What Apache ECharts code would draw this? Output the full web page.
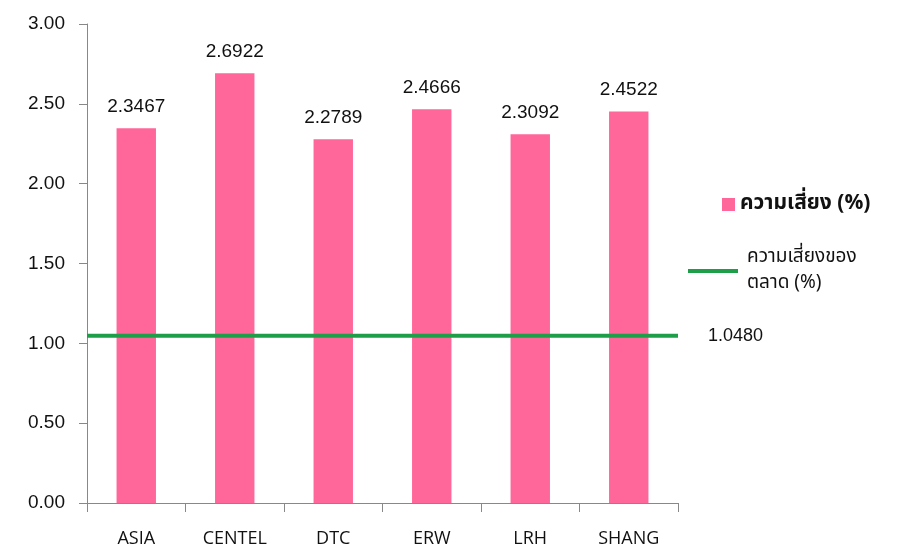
<!DOCTYPE html>
<html>
<head>
<meta charset="utf-8">
<script src="https://cdn.jsdelivr.net/npm/echarts@6/dist/echarts.min.js"></script>
<style>
  html, body { margin: 0; padding: 0; background: #fff; }
  #main { width: 907px; height: 556px; }
</style>
</head>
<body>
<div id="main"></div>
<script>
// ข้อมูลจากรูป
const categories = ['ASIA', 'CENTEL', 'DTC', 'ERW', 'LRH', 'SHANG'];
const riskValues = [2.3467, 2.6922, 2.2789, 2.4666, 2.3092, 2.4522];
const marketRisk = [1.048, 1.048, 1.048, 1.048, 1.048, 1.048];
const yTicks = [0, 0.5, 1, 1.5, 2, 2.5, 3];

const barName = 'ความเสี่ยง (%)';
const lineName = 'ความเสี่ยงของตลาด (%)';
const thaiFont = '"Noto Sans Thai", "Noto Sans", sans-serif';

const myChart = echarts.init(document.getElementById('main'));
const option = {
  backgroundColor: '#fff',
  animation: false,
  grid: { left: 87, right: 229, top: 24, bottom: 53 },
  legend: [
    {
      orient: 'vertical',
      left: 717, top: 189,
      itemWidth: 13, itemHeight: 13, itemGap: 6,
      data: [{ name: barName, icon: 'rect' }],
      textStyle: { fontFamily: thaiFont, fontSize: 21, fontWeight: 'bold', color: '#111' }
    },
    {
      orient: 'vertical',
      left: 683, top: 240,
      itemWidth: 50, itemHeight: 4, itemGap: 6,
      data: [{ name: lineName, icon: 'rect' }],
      formatter: () => 'ความเสี่ยงของ\nตลาด (%)',
      textStyle: { fontFamily: thaiFont, fontSize: 19, color: '#111', lineHeight: 26, padding: [0, 0, 0, 4] }
    }
  ],
  xAxis: [
    {
      type: 'category',
      data: categories,
      axisLine: { lineStyle: { color: '#888' } },
      axisTick: { show: true, length: 9, lineStyle: { color: '#888' } },
      axisLabel: { margin: 27, fontSize: 18, color: '#111', fontFamily: '"Liberation Sans Narrow", "Open Sans", sans-serif' }
    },
    {
      type: 'category',
      data: categories,
      boundaryGap: false,
      show: false
    }
  ],
  yAxis: {
    type: 'value',
    min: 0, max: 3, interval: 0.5,
    axisLine: { show: true, lineStyle: { color: '#888' } },
    axisTick: { show: true, length: 8, lineStyle: { color: '#888' } },
    splitLine: { show: false },
    axisLabel: {
      margin: 22, fontSize: 19, color: '#111',
      formatter: v => yTicks.includes(v) ? v.toFixed(2) : ''
    }
  },
  series: [
    {
      name: barName,
      type: 'bar',
      data: riskValues,
      barWidth: '40%',
      itemStyle: { color: '#FF6699' },
      label: {
        show: true, position: 'top', distance: 12,
        fontSize: 19, color: '#111',
        formatter: p => p.value.toFixed(4)
      }
    },
    {
      name: lineName,
      type: 'line',
      xAxisIndex: 1,
      data: marketRisk,
      symbol: 'none',
      lineStyle: { color: '#1F9E4A', width: 4 },
      itemStyle: { color: '#1F9E4A' },
      endLabel: {
        show: true, distance: 30,
        fontSize: 18, color: '#111',
        formatter: p => p.value.toFixed(4)
      }
    }
  ]
};
myChart.setOption(option);
</script>
</body>
</html>
